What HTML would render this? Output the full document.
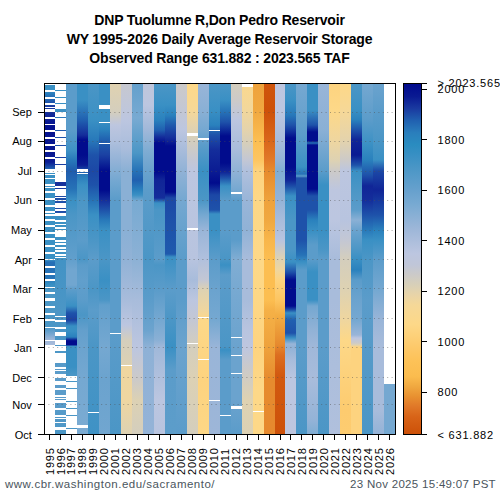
<!DOCTYPE html><html><head><meta charset="utf-8"><style>
html,body{margin:0;padding:0;background:#fff;width:500px;height:500px;overflow:hidden}
body{position:relative;font-family:"Liberation Sans",sans-serif;color:#000}
.title{position:absolute;left:0;width:439px;text-align:center;font-weight:bold;font-size:14px;letter-spacing:-0.17px;white-space:nowrap;line-height:15px}
.ml{position:absolute;right:468.2px;font-size:11px;line-height:12px;white-space:nowrap}
.yl{position:absolute;font-size:11px;line-height:12px;white-space:nowrap;transform-origin:0 0;transform:rotate(-90deg);letter-spacing:0.8px}
.cl{position:absolute;left:437.5px;font-size:11px;line-height:12px;white-space:nowrap;letter-spacing:0.8px}
.foot{position:absolute;top:478px;font-size:11.5px;line-height:12px;color:#4a555d;white-space:nowrap}
</style></head><body>

<div class="title" style="top:13.2px">DNP Tuolumne R,Don Pedro Reservoir</div>
<div class="title" style="top:32.4px">WY 1995-2026 Daily Average Reservoir Storage</div>
<div class="title" style="top:50.8px">Observed Range 631.882 : 2023.565 TAF</div>
<svg style="position:absolute;left:0;top:0" width="500" height="500" shape-rendering="crispEdges"><defs><linearGradient id="g1997" gradientUnits="userSpaceOnUse" x1="0" y1="83" x2="0" y2="434"><stop offset="0.0000" stop-color="#5b9cca"/><stop offset="0.1339" stop-color="#5b9cca"/><stop offset="0.1909" stop-color="#3f92c5"/><stop offset="0.2194" stop-color="#2879ba"/><stop offset="0.2507" stop-color="#1f5cae"/><stop offset="0.3020" stop-color="#2672b7"/><stop offset="0.3333" stop-color="#3a90c4"/><stop offset="0.3761" stop-color="#4b96c6"/><stop offset="0.5014" stop-color="#619fcc"/><stop offset="0.5328" stop-color="#71a6d0"/><stop offset="0.5755" stop-color="#71a6d0"/><stop offset="0.5897" stop-color="#5b9cca"/><stop offset="0.6353" stop-color="#3a90c4"/><stop offset="0.6553" stop-color="#1e52aa"/><stop offset="0.6752" stop-color="#1b41a3"/><stop offset="0.6923" stop-color="#378fc3"/><stop offset="0.7066" stop-color="#3990c4"/><stop offset="0.7236" stop-color="#2a81bd"/><stop offset="0.7322" stop-color="#0b1c93"/><stop offset="0.7350" stop-color="#010c8d"/><stop offset="0.7464" stop-color="#010c8d"/><stop offset="0.7493" stop-color="#3a90c4"/><stop offset="0.8091" stop-color="#3990c4"/><stop offset="0.8319" stop-color="#4a96c6"/><stop offset="1.0000" stop-color="#4a96c6"/></linearGradient><linearGradient id="g1998" gradientUnits="userSpaceOnUse" x1="0" y1="83" x2="0" y2="434"><stop offset="0.0000" stop-color="#3a90c4"/><stop offset="0.0484" stop-color="#3a90c4"/><stop offset="0.1054" stop-color="#2060b0"/><stop offset="0.1481" stop-color="#142d9b"/><stop offset="0.1624" stop-color="#010c8d"/><stop offset="0.2051" stop-color="#010c8d"/><stop offset="0.2336" stop-color="#0b1c93"/><stop offset="0.2621" stop-color="#2879ba"/><stop offset="0.2906" stop-color="#3a90c4"/><stop offset="0.3333" stop-color="#4b96c6"/><stop offset="0.4473" stop-color="#5b9cca"/><stop offset="0.5014" stop-color="#4b96c6"/><stop offset="0.5185" stop-color="#5b9cca"/><stop offset="0.5613" stop-color="#619fcc"/><stop offset="0.6182" stop-color="#5b9cca"/><stop offset="0.6610" stop-color="#4b96c6"/><stop offset="0.7037" stop-color="#639fcc"/><stop offset="0.7521" stop-color="#6ba3ce"/><stop offset="0.8462" stop-color="#75a8d1"/><stop offset="1.0000" stop-color="#7babd2"/></linearGradient><linearGradient id="g1999" gradientUnits="userSpaceOnUse" x1="0" y1="83" x2="0" y2="434"><stop offset="0.0000" stop-color="#4b96c6"/><stop offset="0.1054" stop-color="#3a90c4"/><stop offset="0.1624" stop-color="#2879ba"/><stop offset="0.2051" stop-color="#1e52aa"/><stop offset="0.2507" stop-color="#1c48a6"/><stop offset="0.2906" stop-color="#1e52aa"/><stop offset="0.3333" stop-color="#2672b7"/><stop offset="0.3761" stop-color="#3a90c4"/><stop offset="0.4473" stop-color="#4b96c6"/><stop offset="0.5014" stop-color="#5b9cca"/><stop offset="0.5897" stop-color="#4b96c6"/><stop offset="0.6467" stop-color="#5b9cca"/><stop offset="0.7521" stop-color="#4b96c6"/><stop offset="1.0000" stop-color="#3f92c5"/></linearGradient><linearGradient id="g2000" gradientUnits="userSpaceOnUse" x1="0" y1="83" x2="0" y2="434"><stop offset="0.0000" stop-color="#3a90c4"/><stop offset="0.1083" stop-color="#3a90c4"/><stop offset="0.1339" stop-color="#2a81bd"/><stop offset="0.1624" stop-color="#2060b0"/><stop offset="0.2051" stop-color="#1b41a3"/><stop offset="0.2507" stop-color="#010c8d"/><stop offset="0.3048" stop-color="#010c8d"/><stop offset="0.3333" stop-color="#142d9b"/><stop offset="0.3618" stop-color="#1e52aa"/><stop offset="0.3903" stop-color="#2879ba"/><stop offset="0.4188" stop-color="#3a90c4"/><stop offset="0.5014" stop-color="#4b96c6"/><stop offset="0.5613" stop-color="#3a90c4"/><stop offset="0.6182" stop-color="#4b96c6"/><stop offset="0.6325" stop-color="#619fcc"/><stop offset="0.7521" stop-color="#75a8d1"/><stop offset="0.8462" stop-color="#6ba3ce"/><stop offset="1.0000" stop-color="#71a6d0"/></linearGradient><linearGradient id="g2001" gradientUnits="userSpaceOnUse" x1="0" y1="83" x2="0" y2="434"><stop offset="0.0000" stop-color="#e0d2b0"/><stop offset="0.0826" stop-color="#d4cebd"/><stop offset="0.1197" stop-color="#bdc6df"/><stop offset="0.1624" stop-color="#b0c0dd"/><stop offset="0.2194" stop-color="#94b3d7"/><stop offset="0.2764" stop-color="#75a8d1"/><stop offset="0.3333" stop-color="#5b9cca"/><stop offset="0.5014" stop-color="#5b9cca"/><stop offset="0.7037" stop-color="#5b9cca"/><stop offset="1.0000" stop-color="#4b96c6"/></linearGradient><linearGradient id="g2002" gradientUnits="userSpaceOnUse" x1="0" y1="83" x2="0" y2="434"><stop offset="0.0000" stop-color="#c7c8cf"/><stop offset="0.1054" stop-color="#bcc6e0"/><stop offset="0.1909" stop-color="#a8bcdb"/><stop offset="0.2507" stop-color="#8ab0d5"/><stop offset="0.4188" stop-color="#8ab0d5"/><stop offset="0.5014" stop-color="#91b2d6"/><stop offset="0.6182" stop-color="#a8bcdb"/><stop offset="0.6895" stop-color="#bcc6e0"/><stop offset="0.7322" stop-color="#d4cebd"/><stop offset="0.8006" stop-color="#dcd1b4"/><stop offset="0.8063" stop-color="#efd69f"/><stop offset="0.9031" stop-color="#eed6a1"/><stop offset="1.0000" stop-color="#ded2b2"/></linearGradient><linearGradient id="g2003" gradientUnits="userSpaceOnUse" x1="0" y1="83" x2="0" y2="434"><stop offset="0.0000" stop-color="#64a0cc"/><stop offset="0.0997" stop-color="#78aad2"/><stop offset="0.1994" stop-color="#4b96c6"/><stop offset="0.2507" stop-color="#2672b7"/><stop offset="0.2764" stop-color="#2060b0"/><stop offset="0.3048" stop-color="#2a81bd"/><stop offset="0.3191" stop-color="#3a90c4"/><stop offset="0.3362" stop-color="#78aad2"/><stop offset="0.5014" stop-color="#8cb1d5"/><stop offset="0.6182" stop-color="#a8bcdb"/><stop offset="0.7521" stop-color="#bcc6e0"/><stop offset="0.8462" stop-color="#cccac8"/><stop offset="0.9031" stop-color="#dcd1b4"/><stop offset="1.0000" stop-color="#d4cebd"/></linearGradient><linearGradient id="g2004" gradientUnits="userSpaceOnUse" x1="0" y1="83" x2="0" y2="434"><stop offset="0.0000" stop-color="#bec6db"/><stop offset="0.0627" stop-color="#bcc6e0"/><stop offset="0.1339" stop-color="#a0b8d9"/><stop offset="0.1909" stop-color="#80add3"/><stop offset="0.2479" stop-color="#6ba3ce"/><stop offset="0.3048" stop-color="#5b9cca"/><stop offset="0.5014" stop-color="#4b96c6"/><stop offset="0.6182" stop-color="#5b9cca"/><stop offset="0.7037" stop-color="#6ba3ce"/><stop offset="0.7521" stop-color="#8eb1d6"/><stop offset="1.0000" stop-color="#94b3d7"/></linearGradient><linearGradient id="g2005" gradientUnits="userSpaceOnUse" x1="0" y1="83" x2="0" y2="434"><stop offset="0.0000" stop-color="#4b96c6"/><stop offset="0.0627" stop-color="#3a90c4"/><stop offset="0.1054" stop-color="#2a81bd"/><stop offset="0.1339" stop-color="#2060b0"/><stop offset="0.1538" stop-color="#142d9b"/><stop offset="0.1709" stop-color="#010c8d"/><stop offset="0.2536" stop-color="#010c8d"/><stop offset="0.2764" stop-color="#102597"/><stop offset="0.3276" stop-color="#142d9b"/><stop offset="0.3419" stop-color="#3a90c4"/><stop offset="0.3618" stop-color="#4b96c6"/><stop offset="0.3761" stop-color="#4b96c6"/><stop offset="0.5014" stop-color="#5b9cca"/><stop offset="0.5185" stop-color="#4b96c6"/><stop offset="0.5897" stop-color="#5b9cca"/><stop offset="0.6752" stop-color="#75a8d1"/><stop offset="0.7322" stop-color="#8ab0d5"/><stop offset="0.7521" stop-color="#a0b8d9"/><stop offset="0.9031" stop-color="#bcc6e0"/><stop offset="1.0000" stop-color="#b8c4df"/></linearGradient><linearGradient id="g2006" gradientUnits="userSpaceOnUse" x1="0" y1="83" x2="0" y2="434"><stop offset="0.0000" stop-color="#4b96c6"/><stop offset="0.0627" stop-color="#3a90c4"/><stop offset="0.0912" stop-color="#2a81bd"/><stop offset="0.1197" stop-color="#1f59ad"/><stop offset="0.1567" stop-color="#142d9b"/><stop offset="0.1795" stop-color="#010c8d"/><stop offset="0.2507" stop-color="#010c8d"/><stop offset="0.3105" stop-color="#010c8d"/><stop offset="0.3276" stop-color="#1c48a6"/><stop offset="0.4046" stop-color="#1e52aa"/><stop offset="0.4872" stop-color="#1f59ad"/><stop offset="0.4957" stop-color="#3a90c4"/><stop offset="0.5897" stop-color="#5b9cca"/><stop offset="0.6752" stop-color="#4b96c6"/><stop offset="0.7521" stop-color="#3a90c4"/><stop offset="0.8177" stop-color="#5b9cca"/><stop offset="1.0000" stop-color="#5c9dca"/></linearGradient><linearGradient id="g2007" gradientUnits="userSpaceOnUse" x1="0" y1="83" x2="0" y2="434"><stop offset="0.0000" stop-color="#cccac8"/><stop offset="0.0769" stop-color="#c3c7d4"/><stop offset="0.1339" stop-color="#bcc6e0"/><stop offset="0.1909" stop-color="#a8bcdb"/><stop offset="0.2507" stop-color="#91b2d6"/><stop offset="0.3333" stop-color="#75a8d1"/><stop offset="0.5014" stop-color="#5b9cca"/><stop offset="0.6182" stop-color="#5b9cca"/><stop offset="0.7521" stop-color="#6ba3ce"/><stop offset="1.0000" stop-color="#5b9cca"/></linearGradient><linearGradient id="g2008" gradientUnits="userSpaceOnUse" x1="0" y1="83" x2="0" y2="434"><stop offset="0.0000" stop-color="#fdd888"/><stop offset="0.0769" stop-color="#f6d897"/><stop offset="0.1197" stop-color="#e4d3ac"/><stop offset="0.1624" stop-color="#d4cebd"/><stop offset="0.2194" stop-color="#c3c7d4"/><stop offset="0.2507" stop-color="#bcc6e0"/><stop offset="0.5014" stop-color="#b8c4df"/><stop offset="0.5613" stop-color="#a8bcdb"/><stop offset="0.6182" stop-color="#bcc6e0"/><stop offset="0.6752" stop-color="#c3c7d4"/><stop offset="0.7521" stop-color="#d4cebd"/><stop offset="0.8462" stop-color="#dcd1b4"/><stop offset="1.0000" stop-color="#d4cebd"/></linearGradient><linearGradient id="g2009" gradientUnits="userSpaceOnUse" x1="0" y1="83" x2="0" y2="434"><stop offset="0.0000" stop-color="#99b5d8"/><stop offset="0.0769" stop-color="#8ab0d5"/><stop offset="0.1339" stop-color="#75a8d1"/><stop offset="0.1766" stop-color="#5b9cca"/><stop offset="0.2507" stop-color="#3a90c4"/><stop offset="0.3333" stop-color="#4b96c6"/><stop offset="0.3761" stop-color="#75a8d1"/><stop offset="0.4188" stop-color="#99b5d8"/><stop offset="0.5014" stop-color="#b0c0dd"/><stop offset="0.5613" stop-color="#c3c7d4"/><stop offset="0.5897" stop-color="#ded2b2"/><stop offset="0.6467" stop-color="#efd69f"/><stop offset="0.6752" stop-color="#fdd888"/><stop offset="0.8462" stop-color="#fdd37f"/><stop offset="1.0000" stop-color="#fdd786"/></linearGradient><linearGradient id="g2010" gradientUnits="userSpaceOnUse" x1="0" y1="83" x2="0" y2="434"><stop offset="0.0000" stop-color="#4b96c6"/><stop offset="0.0769" stop-color="#3a90c4"/><stop offset="0.1197" stop-color="#2a81bd"/><stop offset="0.1481" stop-color="#1e52aa"/><stop offset="0.1909" stop-color="#142d9b"/><stop offset="0.2507" stop-color="#0b1c93"/><stop offset="0.2849" stop-color="#010c8d"/><stop offset="0.3191" stop-color="#1c48a6"/><stop offset="0.3618" stop-color="#1e52aa"/><stop offset="0.3732" stop-color="#3a90c4"/><stop offset="0.4188" stop-color="#3a90c4"/><stop offset="0.5014" stop-color="#5b9cca"/><stop offset="0.5897" stop-color="#6ba3ce"/><stop offset="0.6752" stop-color="#75a8d1"/><stop offset="0.7521" stop-color="#99b5d8"/><stop offset="1.0000" stop-color="#9db6d8"/></linearGradient><linearGradient id="g2011" gradientUnits="userSpaceOnUse" x1="0" y1="83" x2="0" y2="434"><stop offset="0.0000" stop-color="#4b96c6"/><stop offset="0.0484" stop-color="#3a90c4"/><stop offset="0.0826" stop-color="#2672b7"/><stop offset="0.1111" stop-color="#1e52aa"/><stop offset="0.1510" stop-color="#010c8d"/><stop offset="0.2279" stop-color="#010c8d"/><stop offset="0.2536" stop-color="#102597"/><stop offset="0.2707" stop-color="#1e52aa"/><stop offset="0.2934" stop-color="#3a90c4"/><stop offset="0.3333" stop-color="#5b9cca"/><stop offset="0.4188" stop-color="#5b9cca"/><stop offset="0.5014" stop-color="#4a96c6"/><stop offset="0.5185" stop-color="#3a90c4"/><stop offset="0.5470" stop-color="#5b9cca"/><stop offset="0.7521" stop-color="#4b96c6"/><stop offset="0.7607" stop-color="#3a90c4"/><stop offset="0.7892" stop-color="#5b9cca"/><stop offset="1.0000" stop-color="#5b9cca"/></linearGradient><linearGradient id="g2012" gradientUnits="userSpaceOnUse" x1="0" y1="83" x2="0" y2="434"><stop offset="0.0000" stop-color="#d4cebd"/><stop offset="0.0484" stop-color="#cccac8"/><stop offset="0.1054" stop-color="#bcc6e0"/><stop offset="0.1909" stop-color="#a8bcdb"/><stop offset="0.2650" stop-color="#8ab0d5"/><stop offset="0.3048" stop-color="#75a8d1"/><stop offset="0.3333" stop-color="#5b9cca"/><stop offset="0.4473" stop-color="#5b9cca"/><stop offset="0.5014" stop-color="#80add3"/><stop offset="0.6182" stop-color="#75a8d1"/><stop offset="0.7521" stop-color="#6ba3ce"/><stop offset="0.9031" stop-color="#6ba3ce"/><stop offset="1.0000" stop-color="#5b9cca"/></linearGradient><linearGradient id="g2013" gradientUnits="userSpaceOnUse" x1="0" y1="83" x2="0" y2="434"><stop offset="0.0000" stop-color="#fad88e"/><stop offset="0.0769" stop-color="#f2d79b"/><stop offset="0.1339" stop-color="#e4d3ac"/><stop offset="0.1766" stop-color="#d4cebd"/><stop offset="0.2194" stop-color="#c3c7d4"/><stop offset="0.2507" stop-color="#b0c0dd"/><stop offset="0.3333" stop-color="#99b5d8"/><stop offset="0.4188" stop-color="#91b2d6"/><stop offset="0.5014" stop-color="#a8bcdb"/><stop offset="0.6182" stop-color="#a8bcdb"/><stop offset="0.7037" stop-color="#b8c4df"/><stop offset="0.7521" stop-color="#bdc6df"/><stop offset="0.8177" stop-color="#cccac8"/><stop offset="0.9031" stop-color="#ded2b2"/><stop offset="1.0000" stop-color="#dcd1b4"/></linearGradient><linearGradient id="g2014" gradientUnits="userSpaceOnUse" x1="0" y1="83" x2="0" y2="434"><stop offset="0.0000" stop-color="#eea23c"/><stop offset="0.0769" stop-color="#f0a840"/><stop offset="0.1339" stop-color="#f8b64a"/><stop offset="0.1624" stop-color="#fcbe51"/><stop offset="0.2194" stop-color="#fdc561"/><stop offset="0.2507" stop-color="#fdd37f"/><stop offset="0.3333" stop-color="#fdd786"/><stop offset="0.5014" stop-color="#fdd888"/><stop offset="0.6182" stop-color="#fdd786"/><stop offset="0.7521" stop-color="#fdd37f"/><stop offset="0.8746" stop-color="#fdd888"/><stop offset="1.0000" stop-color="#fdd888"/></linearGradient><linearGradient id="g2015" gradientUnits="userSpaceOnUse" x1="0" y1="83" x2="0" y2="434"><stop offset="0.0000" stop-color="#cf550c"/><stop offset="0.0769" stop-color="#cd5109"/><stop offset="0.1624" stop-color="#d9661a"/><stop offset="0.2194" stop-color="#e17a29"/><stop offset="0.2507" stop-color="#e68b2e"/><stop offset="0.3333" stop-color="#eea23c"/><stop offset="0.3903" stop-color="#f0a840"/><stop offset="0.4473" stop-color="#f8b64a"/><stop offset="0.5014" stop-color="#fcbe51"/><stop offset="0.6182" stop-color="#fcbe51"/><stop offset="0.6467" stop-color="#f5b147"/><stop offset="0.7521" stop-color="#eea23c"/><stop offset="0.8462" stop-color="#e68b2e"/><stop offset="1.0000" stop-color="#e6892e"/></linearGradient><linearGradient id="g2016" gradientUnits="userSpaceOnUse" x1="0" y1="83" x2="0" y2="434"><stop offset="0.0000" stop-color="#bdc6df"/><stop offset="0.0769" stop-color="#bcc6e0"/><stop offset="0.1624" stop-color="#a8bcdb"/><stop offset="0.2194" stop-color="#94b3d7"/><stop offset="0.2507" stop-color="#80add3"/><stop offset="0.3333" stop-color="#94b3d7"/><stop offset="0.3903" stop-color="#a8bcdb"/><stop offset="0.4473" stop-color="#b8c4df"/><stop offset="0.5014" stop-color="#ded2b2"/><stop offset="0.5328" stop-color="#efd69f"/><stop offset="0.5613" stop-color="#fdd37f"/><stop offset="0.6182" stop-color="#fdc561"/><stop offset="0.6610" stop-color="#f3ae44"/><stop offset="0.6895" stop-color="#eea23c"/><stop offset="0.7464" stop-color="#e6892e"/><stop offset="0.7749" stop-color="#dc6e20"/><stop offset="0.8319" stop-color="#d25910"/><stop offset="1.0000" stop-color="#cd5109"/></linearGradient><linearGradient id="g2017" gradientUnits="userSpaceOnUse" x1="0" y1="83" x2="0" y2="434"><stop offset="0.0000" stop-color="#4b96c6"/><stop offset="0.0484" stop-color="#3a90c4"/><stop offset="0.0912" stop-color="#2879ba"/><stop offset="0.1197" stop-color="#1e52aa"/><stop offset="0.1567" stop-color="#010c8d"/><stop offset="0.2393" stop-color="#010c8d"/><stop offset="0.2764" stop-color="#102597"/><stop offset="0.2963" stop-color="#1e52aa"/><stop offset="0.3219" stop-color="#3a90c4"/><stop offset="0.3903" stop-color="#4b96c6"/><stop offset="0.4758" stop-color="#4b96c6"/><stop offset="0.5100" stop-color="#3a90c4"/><stop offset="0.5385" stop-color="#1e52aa"/><stop offset="0.5613" stop-color="#010c8d"/><stop offset="0.6353" stop-color="#010c8d"/><stop offset="0.6467" stop-color="#1e52aa"/><stop offset="0.6553" stop-color="#3a90c4"/><stop offset="0.6752" stop-color="#2060b0"/><stop offset="0.7123" stop-color="#1e52aa"/><stop offset="0.7265" stop-color="#3a90c4"/><stop offset="0.7436" stop-color="#99b5d8"/><stop offset="0.7521" stop-color="#91b2d6"/><stop offset="0.7892" stop-color="#a8bcdb"/><stop offset="0.8462" stop-color="#bcc6e0"/><stop offset="1.0000" stop-color="#bdc6df"/></linearGradient><linearGradient id="g2018" gradientUnits="userSpaceOnUse" x1="0" y1="83" x2="0" y2="434"><stop offset="0.0000" stop-color="#75a8d1"/><stop offset="0.0769" stop-color="#6ba3ce"/><stop offset="0.1481" stop-color="#5b9cca"/><stop offset="0.2393" stop-color="#3a90c4"/><stop offset="0.2593" stop-color="#2672b7"/><stop offset="0.2650" stop-color="#5b9cca"/><stop offset="0.2707" stop-color="#1e52aa"/><stop offset="0.4473" stop-color="#1e52aa"/><stop offset="0.4900" stop-color="#2672b7"/><stop offset="0.5100" stop-color="#3a90c4"/><stop offset="0.5328" stop-color="#5b9cca"/><stop offset="0.7521" stop-color="#5b9cca"/><stop offset="1.0000" stop-color="#4b96c6"/></linearGradient><linearGradient id="g2019" gradientUnits="userSpaceOnUse" x1="0" y1="83" x2="0" y2="434"><stop offset="0.0000" stop-color="#3a90c4"/><stop offset="0.0769" stop-color="#3a90c4"/><stop offset="0.1197" stop-color="#1e52aa"/><stop offset="0.1396" stop-color="#010c8d"/><stop offset="0.1652" stop-color="#010c8d"/><stop offset="0.1709" stop-color="#2672b7"/><stop offset="0.1766" stop-color="#010c8d"/><stop offset="0.3020" stop-color="#010c8d"/><stop offset="0.3219" stop-color="#1e52aa"/><stop offset="0.3618" stop-color="#1e52aa"/><stop offset="0.3903" stop-color="#2a81bd"/><stop offset="0.4217" stop-color="#3a90c4"/><stop offset="0.4615" stop-color="#5b9cca"/><stop offset="0.5014" stop-color="#5b9cca"/><stop offset="0.5385" stop-color="#3a90c4"/><stop offset="0.6182" stop-color="#3a90c4"/><stop offset="0.6353" stop-color="#75a8d1"/><stop offset="0.7037" stop-color="#91b2d6"/><stop offset="0.7521" stop-color="#a0b8d9"/><stop offset="0.8462" stop-color="#a8bcdb"/><stop offset="0.9601" stop-color="#94b3d7"/><stop offset="1.0000" stop-color="#80add3"/></linearGradient><linearGradient id="g2020" gradientUnits="userSpaceOnUse" x1="0" y1="83" x2="0" y2="434"><stop offset="0.0000" stop-color="#99b5d8"/><stop offset="0.1339" stop-color="#8ab0d5"/><stop offset="0.2507" stop-color="#5b9cca"/><stop offset="0.2906" stop-color="#3a90c4"/><stop offset="0.4188" stop-color="#3a90c4"/><stop offset="0.4758" stop-color="#4b96c6"/><stop offset="0.5014" stop-color="#5b9cca"/><stop offset="0.7521" stop-color="#5b9cca"/><stop offset="1.0000" stop-color="#4b96c6"/></linearGradient><linearGradient id="g2021" gradientUnits="userSpaceOnUse" x1="0" y1="83" x2="0" y2="434"><stop offset="0.0000" stop-color="#fdd37f"/><stop offset="0.0769" stop-color="#fdd888"/><stop offset="0.1624" stop-color="#efd69f"/><stop offset="0.2194" stop-color="#ded2b2"/><stop offset="0.2507" stop-color="#cccac8"/><stop offset="0.3048" stop-color="#bdc6df"/><stop offset="0.3903" stop-color="#bcc6e0"/><stop offset="0.5014" stop-color="#a8bcdb"/><stop offset="0.6182" stop-color="#a8bcdb"/><stop offset="1.0000" stop-color="#b0c0dd"/></linearGradient><linearGradient id="g2022" gradientUnits="userSpaceOnUse" x1="0" y1="83" x2="0" y2="434"><stop offset="0.0000" stop-color="#fdd888"/><stop offset="0.0769" stop-color="#f6d897"/><stop offset="0.1624" stop-color="#e4d3ac"/><stop offset="0.2194" stop-color="#cccac8"/><stop offset="0.2507" stop-color="#bcc6e0"/><stop offset="0.3903" stop-color="#b8c4df"/><stop offset="0.4473" stop-color="#c3c7d4"/><stop offset="0.5014" stop-color="#d4cebd"/><stop offset="0.5897" stop-color="#ded2b2"/><stop offset="0.6752" stop-color="#efd69f"/><stop offset="0.7322" stop-color="#fdd888"/><stop offset="0.9316" stop-color="#fdcb6f"/><stop offset="1.0000" stop-color="#fdcc70"/></linearGradient><linearGradient id="g2023" gradientUnits="userSpaceOnUse" x1="0" y1="83" x2="0" y2="434"><stop offset="0.0000" stop-color="#4b96c6"/><stop offset="0.0769" stop-color="#3a90c4"/><stop offset="0.1054" stop-color="#2a81bd"/><stop offset="0.1339" stop-color="#1e52aa"/><stop offset="0.1624" stop-color="#102597"/><stop offset="0.2051" stop-color="#0a1a92"/><stop offset="0.2336" stop-color="#1e52aa"/><stop offset="0.2507" stop-color="#3a90c4"/><stop offset="0.3048" stop-color="#4b96c6"/><stop offset="0.3618" stop-color="#5b9cca"/><stop offset="0.3903" stop-color="#8ab0d5"/><stop offset="0.4188" stop-color="#6ba3ce"/><stop offset="0.4758" stop-color="#4b96c6"/><stop offset="0.5014" stop-color="#3a90c4"/><stop offset="0.5328" stop-color="#2a81bd"/><stop offset="0.5613" stop-color="#5b9cca"/><stop offset="0.6182" stop-color="#6ba3ce"/><stop offset="0.6752" stop-color="#75a8d1"/><stop offset="0.7179" stop-color="#99b5d8"/><stop offset="0.7265" stop-color="#bcc6e0"/><stop offset="0.7407" stop-color="#cccac8"/><stop offset="0.7464" stop-color="#ded2b2"/><stop offset="0.7521" stop-color="#fdd37f"/><stop offset="1.0000" stop-color="#fdd37f"/></linearGradient><linearGradient id="g2024" gradientUnits="userSpaceOnUse" x1="0" y1="83" x2="0" y2="434"><stop offset="0.0000" stop-color="#75a8d1"/><stop offset="0.1054" stop-color="#5b9cca"/><stop offset="0.1766" stop-color="#3a90c4"/><stop offset="0.2194" stop-color="#2a81bd"/><stop offset="0.2621" stop-color="#1e52aa"/><stop offset="0.2934" stop-color="#102597"/><stop offset="0.3333" stop-color="#142d9b"/><stop offset="0.3761" stop-color="#1e52aa"/><stop offset="0.4188" stop-color="#2879ba"/><stop offset="0.4473" stop-color="#3a90c4"/><stop offset="0.5014" stop-color="#4b96c6"/><stop offset="0.6182" stop-color="#5b9cca"/><stop offset="1.0000" stop-color="#4b96c6"/></linearGradient><linearGradient id="g2025" gradientUnits="userSpaceOnUse" x1="0" y1="83" x2="0" y2="434"><stop offset="0.0000" stop-color="#6ba3ce"/><stop offset="0.0769" stop-color="#5b9cca"/><stop offset="0.1624" stop-color="#4b96c6"/><stop offset="0.2194" stop-color="#3a90c4"/><stop offset="0.2507" stop-color="#1c48a6"/><stop offset="0.3048" stop-color="#102597"/><stop offset="0.3761" stop-color="#1e52aa"/><stop offset="0.4188" stop-color="#2a81bd"/><stop offset="0.4473" stop-color="#3a90c4"/><stop offset="0.5014" stop-color="#5b9cca"/><stop offset="0.5897" stop-color="#75a8d1"/><stop offset="0.6752" stop-color="#99b5d8"/><stop offset="0.7521" stop-color="#a8bcdb"/><stop offset="0.9316" stop-color="#a8bcdb"/><stop offset="1.0000" stop-color="#94b3d7"/></linearGradient><linearGradient id="g2026" gradientUnits="userSpaceOnUse" x1="0" y1="83" x2="0" y2="434"><stop offset="0.0000" stop-color="#ffffff"/><stop offset="0.8575" stop-color="#ffffff"/><stop offset="0.8576" stop-color="#75a8d1"/><stop offset="1.0000" stop-color="#75a8d1"/></linearGradient><linearGradient id="g1995" gradientUnits="userSpaceOnUse" x1="0" y1="83" x2="0" y2="434"><stop offset="0.0000" stop-color="#3990c4"/><stop offset="0.0199" stop-color="#3990c4"/><stop offset="0.0313" stop-color="#297bbb"/><stop offset="0.0513" stop-color="#1f5bae"/><stop offset="0.0684" stop-color="#19389f"/><stop offset="0.0883" stop-color="#122a99"/><stop offset="0.1083" stop-color="#0a1a92"/><stop offset="0.1254" stop-color="#04118f"/><stop offset="0.2251" stop-color="#0b1c93"/><stop offset="0.2450" stop-color="#2162b1"/><stop offset="0.2564" stop-color="#3a90c4"/><stop offset="0.5043" stop-color="#3990c4"/><stop offset="0.5100" stop-color="#256fb6"/><stop offset="0.5584" stop-color="#2775b8"/><stop offset="0.5726" stop-color="#378fc3"/><stop offset="0.5897" stop-color="#4b97c6"/><stop offset="0.6923" stop-color="#4a96c6"/><stop offset="0.7037" stop-color="#5b9cca"/><stop offset="0.7293" stop-color="#9ab5d8"/><stop offset="0.7464" stop-color="#a8bcdb"/><stop offset="1.0000" stop-color="#a8bcdb"/></linearGradient><linearGradient id="g1996" gradientUnits="userSpaceOnUse" x1="0" y1="83" x2="0" y2="434"><stop offset="0.0000" stop-color="#3a90c4"/><stop offset="0.0627" stop-color="#3a90c4"/><stop offset="0.0798" stop-color="#3d91c4"/><stop offset="0.1197" stop-color="#2060b0"/><stop offset="0.2194" stop-color="#1b41a3"/><stop offset="0.2877" stop-color="#152f9b"/><stop offset="0.3333" stop-color="#1e52aa"/><stop offset="0.3675" stop-color="#1d4ba7"/><stop offset="0.3789" stop-color="#3a90c4"/><stop offset="0.6467" stop-color="#4b96c6"/><stop offset="0.7607" stop-color="#4b96c6"/><stop offset="0.8177" stop-color="#5b9cca"/><stop offset="0.9031" stop-color="#5b9cca"/><stop offset="1.0000" stop-color="#4a96c6"/></linearGradient><linearGradient id="cb" x1="0" y1="1" x2="0" y2="0"><stop offset="0.0000" stop-color="#cc5008"/><stop offset="0.0511" stop-color="#d86418"/><stop offset="0.0798" stop-color="#e07828"/><stop offset="0.1079" stop-color="#e89030"/><stop offset="0.1366" stop-color="#f0a840"/><stop offset="0.1654" stop-color="#fbbc4e"/><stop offset="0.2106" stop-color="#fdc258"/><stop offset="0.2451" stop-color="#fdc868"/><stop offset="0.2789" stop-color="#fdd078"/><stop offset="0.3134" stop-color="#fdd888"/><stop offset="0.3694" stop-color="#f5d898"/><stop offset="0.3982" stop-color="#e8d4a8"/><stop offset="0.4262" stop-color="#d8d0b8"/><stop offset="0.4549" stop-color="#cccac8"/><stop offset="0.4837" stop-color="#c0c6d8"/><stop offset="0.5160" stop-color="#bcc6e0"/><stop offset="0.5879" stop-color="#9cb6d8"/><stop offset="0.6554" stop-color="#78aad2"/><stop offset="0.6885" stop-color="#6aa2ce"/><stop offset="0.7244" stop-color="#5a9cca"/><stop offset="0.7603" stop-color="#4a96c6"/><stop offset="0.7927" stop-color="#3a90c4"/><stop offset="0.8264" stop-color="#2a8cc0"/><stop offset="0.8602" stop-color="#2a7ebc"/><stop offset="0.8947" stop-color="#2060b0"/><stop offset="0.9285" stop-color="#1a3aa0"/><stop offset="0.9629" stop-color="#0a1a92"/><stop offset="1.0000" stop-color="#000a8c"/></linearGradient></defs><rect x="66" y="83" width="11" height="351" fill="url(#g1997)"/><rect x="77" y="83" width="11" height="351" fill="url(#g1998)"/><rect x="77" y="169" width="11" height="3" fill="#fff"/><rect x="77" y="173" width="11" height="1" fill="#fff"/><rect x="77" y="425" width="11" height="3" fill="#fff"/><rect x="88" y="83" width="11" height="351" fill="url(#g1999)"/><rect x="88" y="412" width="11" height="1" fill="#fff"/><rect x="99" y="83" width="11" height="351" fill="url(#g2000)"/><rect x="99" y="105" width="11" height="4" fill="#fff"/><rect x="99" y="122" width="11" height="1" fill="#fff"/><rect x="99" y="143" width="11" height="1" fill="#fff"/><rect x="110" y="83" width="11" height="351" fill="url(#g2001)"/><rect x="110" y="333" width="11" height="1" fill="#fff"/><rect x="121" y="83" width="11" height="351" fill="url(#g2002)"/><rect x="121" y="365" width="11" height="1" fill="#fff"/><rect x="132" y="83" width="11" height="351" fill="url(#g2003)"/><rect x="143" y="83" width="11" height="351" fill="url(#g2004)"/><rect x="154" y="83" width="11" height="351" fill="url(#g2005)"/><rect x="165" y="83" width="11" height="351" fill="url(#g2006)"/><rect x="176" y="83" width="11" height="351" fill="url(#g2007)"/><rect x="187" y="83" width="11" height="351" fill="url(#g2008)"/><rect x="187" y="133" width="11" height="3" fill="#fff"/><rect x="187" y="228" width="11" height="2" fill="#fff"/><rect x="187" y="343" width="11" height="1" fill="#fff"/><rect x="198" y="83" width="11" height="351" fill="url(#g2009)"/><rect x="198" y="138" width="11" height="2" fill="#fff"/><rect x="198" y="317" width="11" height="1" fill="#fff"/><rect x="198" y="359" width="11" height="1" fill="#fff"/><rect x="209" y="83" width="11" height="351" fill="url(#g2010)"/><rect x="209" y="130" width="11" height="1" fill="#fff"/><rect x="209" y="400" width="11" height="1" fill="#fff"/><rect x="220" y="83" width="11" height="351" fill="url(#g2011)"/><rect x="220" y="415" width="11" height="1" fill="#fff"/><rect x="231" y="83" width="11" height="351" fill="url(#g2012)"/><rect x="231" y="192" width="11" height="2" fill="#fff"/><rect x="231" y="337" width="11" height="1" fill="#fff"/><rect x="231" y="355" width="11" height="1" fill="#fff"/><rect x="231" y="373" width="11" height="1" fill="#fff"/><rect x="231" y="406" width="11" height="3" fill="#fff"/><rect x="242" y="83" width="11" height="351" fill="url(#g2013)"/><rect x="242" y="83" width="11" height="4" fill="#fff"/><rect x="253" y="83" width="11" height="351" fill="url(#g2014)"/><rect x="253" y="411" width="11" height="1" fill="#fff"/><rect x="264" y="83" width="11" height="351" fill="url(#g2015)"/><rect x="275" y="83" width="10" height="351" fill="url(#g2016)"/><rect x="285" y="83" width="11" height="351" fill="url(#g2017)"/><rect x="296" y="83" width="11" height="351" fill="url(#g2018)"/><rect x="307" y="83" width="11" height="351" fill="url(#g2019)"/><rect x="318" y="83" width="11" height="351" fill="url(#g2020)"/><rect x="329" y="83" width="11" height="351" fill="url(#g2021)"/><rect x="340" y="83" width="11" height="351" fill="url(#g2022)"/><rect x="351" y="83" width="11" height="351" fill="url(#g2023)"/><rect x="362" y="83" width="11" height="351" fill="url(#g2024)"/><rect x="373" y="83" width="11" height="351" fill="url(#g2025)"/><rect x="384" y="83" width="11" height="351" fill="url(#g2026)"/><rect x="66" y="376" width="11" height="5" fill="#fff"/><rect x="66" y="382" width="11" height="6" fill="#fff"/><rect x="66" y="389" width="11" height="12" fill="#fff"/><rect x="66" y="402" width="11" height="6" fill="#fff"/><rect x="66" y="409" width="11" height="6" fill="#fff"/><rect x="66" y="416" width="11" height="12" fill="#fff"/><rect x="66" y="429" width="11" height="5" fill="#fff"/><rect x="44" y="83" width="11" height="351" fill="url(#g1995)"/><rect x="44" y="83" width="11" height="2" fill="#fff"/><rect x="44" y="90" width="11" height="2" fill="#fff"/><rect x="44" y="97" width="11" height="2" fill="#fff"/><rect x="44" y="103" width="11" height="2" fill="#fff"/><rect x="44" y="107" width="11" height="1" fill="#fff"/><rect x="44" y="109" width="11" height="3" fill="#fff"/><rect x="44" y="117" width="11" height="2" fill="#fff"/><rect x="44" y="124" width="11" height="1" fill="#fff"/><rect x="44" y="130" width="11" height="2" fill="#fff"/><rect x="44" y="137" width="11" height="2" fill="#fff"/><rect x="44" y="144" width="11" height="2" fill="#fff"/><rect x="44" y="150" width="11" height="2" fill="#fff"/><rect x="44" y="157" width="11" height="2" fill="#fff"/><rect x="44" y="169" width="11" height="4" fill="#fff"/><rect x="44" y="174" width="11" height="1" fill="#fff"/><rect x="44" y="178" width="11" height="1" fill="#fff"/><rect x="44" y="184" width="11" height="2" fill="#fff"/><rect x="44" y="187" width="11" height="1" fill="#fff"/><rect x="44" y="191" width="11" height="2" fill="#fff"/><rect x="44" y="198" width="11" height="2" fill="#fff"/><rect x="44" y="205" width="11" height="2" fill="#fff"/><rect x="44" y="211" width="11" height="2" fill="#fff"/><rect x="44" y="214" width="11" height="2" fill="#fff"/><rect x="44" y="219" width="11" height="2" fill="#fff"/><rect x="44" y="225" width="11" height="2" fill="#fff"/><rect x="44" y="232" width="11" height="2" fill="#fff"/><rect x="44" y="238" width="11" height="2" fill="#fff"/><rect x="44" y="245" width="11" height="2" fill="#fff"/><rect x="44" y="252" width="11" height="2" fill="#fff"/><rect x="44" y="259" width="11" height="1" fill="#fff"/><rect x="44" y="266" width="11" height="2" fill="#fff"/><rect x="44" y="273" width="11" height="2" fill="#fff"/><rect x="44" y="279" width="11" height="2" fill="#fff"/><rect x="44" y="287" width="11" height="1" fill="#fff"/><rect x="44" y="292" width="11" height="2" fill="#fff"/><rect x="44" y="298" width="11" height="3" fill="#fff"/><rect x="44" y="306" width="11" height="2" fill="#fff"/><rect x="44" y="313" width="11" height="2" fill="#fff"/><rect x="44" y="319" width="11" height="2" fill="#fff"/><rect x="44" y="327" width="11" height="1" fill="#fff"/><rect x="44" y="340" width="11" height="1" fill="#fff"/><rect x="44" y="345" width="11" height="89" fill="#fff"/><rect x="55" y="90" width="11" height="1" fill="url(#g1996)"/><rect x="55" y="97" width="11" height="1" fill="url(#g1996)"/><rect x="55" y="103" width="11" height="1" fill="url(#g1996)"/><rect x="55" y="109" width="11" height="3" fill="url(#g1996)"/><rect x="55" y="117" width="11" height="1" fill="url(#g1996)"/><rect x="55" y="130" width="11" height="1" fill="url(#g1996)"/><rect x="55" y="137" width="11" height="1" fill="url(#g1996)"/><rect x="55" y="145" width="11" height="1" fill="url(#g1996)"/><rect x="55" y="157" width="11" height="1" fill="url(#g1996)"/><rect x="55" y="164" width="11" height="1" fill="url(#g1996)"/><rect x="55" y="182" width="11" height="4" fill="url(#g1996)"/><rect x="55" y="188" width="11" height="1" fill="url(#g1996)"/><rect x="55" y="196" width="11" height="1" fill="url(#g1996)"/><rect x="55" y="198" width="11" height="2" fill="url(#g1996)"/><rect x="55" y="201" width="11" height="2" fill="url(#g1996)"/><rect x="55" y="208" width="11" height="1" fill="url(#g1996)"/><rect x="55" y="211" width="11" height="2" fill="url(#g1996)"/><rect x="55" y="216" width="11" height="4" fill="url(#g1996)"/><rect x="55" y="222" width="11" height="2" fill="url(#g1996)"/><rect x="55" y="225" width="11" height="2" fill="url(#g1996)"/><rect x="55" y="229" width="11" height="1" fill="url(#g1996)"/><rect x="55" y="237" width="11" height="3" fill="url(#g1996)"/><rect x="55" y="242" width="11" height="1" fill="url(#g1996)"/><rect x="55" y="245" width="11" height="2" fill="url(#g1996)"/><rect x="55" y="249" width="11" height="1" fill="url(#g1996)"/><rect x="55" y="252" width="11" height="2" fill="url(#g1996)"/><rect x="55" y="256" width="11" height="1" fill="url(#g1996)"/><rect x="55" y="258" width="11" height="58" fill="url(#g1996)"/><rect x="55" y="317" width="11" height="3" fill="url(#g1996)"/><rect x="55" y="322" width="11" height="5" fill="url(#g1996)"/><rect x="55" y="329" width="11" height="3" fill="url(#g1996)"/><rect x="55" y="336" width="11" height="4" fill="url(#g1996)"/><rect x="55" y="345" width="11" height="1" fill="url(#g1996)"/><rect x="55" y="351" width="11" height="2" fill="url(#g1996)"/><rect x="55" y="363" width="11" height="4" fill="url(#g1996)"/><rect x="55" y="369" width="11" height="1" fill="url(#g1996)"/><rect x="55" y="371" width="11" height="3" fill="url(#g1996)"/><rect x="55" y="378" width="11" height="3" fill="url(#g1996)"/><rect x="55" y="385" width="11" height="3" fill="url(#g1996)"/><rect x="55" y="390" width="11" height="5" fill="url(#g1996)"/><rect x="55" y="397" width="11" height="1" fill="url(#g1996)"/><rect x="55" y="399" width="11" height="1" fill="url(#g1996)"/><rect x="55" y="403" width="11" height="5" fill="url(#g1996)"/><rect x="55" y="410" width="11" height="5" fill="url(#g1996)"/><rect x="55" y="417" width="11" height="1" fill="url(#g1996)"/><rect x="55" y="419" width="11" height="3" fill="url(#g1996)"/><rect x="55" y="423" width="11" height="4" fill="url(#g1996)"/><rect x="55" y="430" width="11" height="4" fill="url(#g1996)"/><line x1="44" y1="404.5" x2="395" y2="404.5" stroke="#505050" stroke-opacity="0.5" stroke-width="1" stroke-dasharray="1 3.4" shape-rendering="auto"/><line x1="44" y1="377.5" x2="395" y2="377.5" stroke="#505050" stroke-opacity="0.5" stroke-width="1" stroke-dasharray="1 3.4" shape-rendering="auto"/><line x1="44" y1="347.5" x2="395" y2="347.5" stroke="#505050" stroke-opacity="0.5" stroke-width="1" stroke-dasharray="1 3.4" shape-rendering="auto"/><line x1="44" y1="318.5" x2="395" y2="318.5" stroke="#505050" stroke-opacity="0.5" stroke-width="1" stroke-dasharray="1 3.4" shape-rendering="auto"/><line x1="44" y1="288.5" x2="395" y2="288.5" stroke="#505050" stroke-opacity="0.5" stroke-width="1" stroke-dasharray="1 3.4" shape-rendering="auto"/><line x1="44" y1="259.5" x2="395" y2="259.5" stroke="#505050" stroke-opacity="0.5" stroke-width="1" stroke-dasharray="1 3.4" shape-rendering="auto"/><line x1="44" y1="230.5" x2="395" y2="230.5" stroke="#505050" stroke-opacity="0.5" stroke-width="1" stroke-dasharray="1 3.4" shape-rendering="auto"/><line x1="44" y1="200.5" x2="395" y2="200.5" stroke="#505050" stroke-opacity="0.5" stroke-width="1" stroke-dasharray="1 3.4" shape-rendering="auto"/><line x1="44" y1="171.5" x2="395" y2="171.5" stroke="#505050" stroke-opacity="0.5" stroke-width="1" stroke-dasharray="1 3.4" shape-rendering="auto"/><line x1="44" y1="141.5" x2="395" y2="141.5" stroke="#505050" stroke-opacity="0.5" stroke-width="1" stroke-dasharray="1 3.4" shape-rendering="auto"/><line x1="44" y1="112.5" x2="395" y2="112.5" stroke="#505050" stroke-opacity="0.5" stroke-width="1" stroke-dasharray="1 3.4" shape-rendering="auto"/><rect x="44.5" y="83.5" width="351" height="351" fill="none" stroke="#000" stroke-width="1"/><line x1="38" y1="434.5" x2="44" y2="434.5" stroke="#000" stroke-width="1"/><line x1="38" y1="404.5" x2="44" y2="404.5" stroke="#000" stroke-width="1"/><line x1="38" y1="377.5" x2="44" y2="377.5" stroke="#000" stroke-width="1"/><line x1="38" y1="347.5" x2="44" y2="347.5" stroke="#000" stroke-width="1"/><line x1="38" y1="318.5" x2="44" y2="318.5" stroke="#000" stroke-width="1"/><line x1="38" y1="288.5" x2="44" y2="288.5" stroke="#000" stroke-width="1"/><line x1="38" y1="259.5" x2="44" y2="259.5" stroke="#000" stroke-width="1"/><line x1="38" y1="230.5" x2="44" y2="230.5" stroke="#000" stroke-width="1"/><line x1="38" y1="200.5" x2="44" y2="200.5" stroke="#000" stroke-width="1"/><line x1="38" y1="171.5" x2="44" y2="171.5" stroke="#000" stroke-width="1"/><line x1="38" y1="141.5" x2="44" y2="141.5" stroke="#000" stroke-width="1"/><line x1="38" y1="112.5" x2="44" y2="112.5" stroke="#000" stroke-width="1"/><line x1="49.5" y1="434" x2="49.5" y2="439.5" stroke="#000" stroke-width="1"/><line x1="60.5" y1="434" x2="60.5" y2="439.5" stroke="#000" stroke-width="1"/><line x1="71.5" y1="434" x2="71.5" y2="439.5" stroke="#000" stroke-width="1"/><line x1="82.5" y1="434" x2="82.5" y2="439.5" stroke="#000" stroke-width="1"/><line x1="93.5" y1="434" x2="93.5" y2="439.5" stroke="#000" stroke-width="1"/><line x1="104.5" y1="434" x2="104.5" y2="439.5" stroke="#000" stroke-width="1"/><line x1="115.5" y1="434" x2="115.5" y2="439.5" stroke="#000" stroke-width="1"/><line x1="126.5" y1="434" x2="126.5" y2="439.5" stroke="#000" stroke-width="1"/><line x1="137.5" y1="434" x2="137.5" y2="439.5" stroke="#000" stroke-width="1"/><line x1="148.5" y1="434" x2="148.5" y2="439.5" stroke="#000" stroke-width="1"/><line x1="159.5" y1="434" x2="159.5" y2="439.5" stroke="#000" stroke-width="1"/><line x1="170.5" y1="434" x2="170.5" y2="439.5" stroke="#000" stroke-width="1"/><line x1="181.5" y1="434" x2="181.5" y2="439.5" stroke="#000" stroke-width="1"/><line x1="192.5" y1="434" x2="192.5" y2="439.5" stroke="#000" stroke-width="1"/><line x1="203.5" y1="434" x2="203.5" y2="439.5" stroke="#000" stroke-width="1"/><line x1="214.5" y1="434" x2="214.5" y2="439.5" stroke="#000" stroke-width="1"/><line x1="225.5" y1="434" x2="225.5" y2="439.5" stroke="#000" stroke-width="1"/><line x1="236.5" y1="434" x2="236.5" y2="439.5" stroke="#000" stroke-width="1"/><line x1="247.5" y1="434" x2="247.5" y2="439.5" stroke="#000" stroke-width="1"/><line x1="258.5" y1="434" x2="258.5" y2="439.5" stroke="#000" stroke-width="1"/><line x1="269.5" y1="434" x2="269.5" y2="439.5" stroke="#000" stroke-width="1"/><line x1="280.5" y1="434" x2="280.5" y2="439.5" stroke="#000" stroke-width="1"/><line x1="290.5" y1="434" x2="290.5" y2="439.5" stroke="#000" stroke-width="1"/><line x1="301.5" y1="434" x2="301.5" y2="439.5" stroke="#000" stroke-width="1"/><line x1="312.5" y1="434" x2="312.5" y2="439.5" stroke="#000" stroke-width="1"/><line x1="323.5" y1="434" x2="323.5" y2="439.5" stroke="#000" stroke-width="1"/><line x1="334.5" y1="434" x2="334.5" y2="439.5" stroke="#000" stroke-width="1"/><line x1="345.5" y1="434" x2="345.5" y2="439.5" stroke="#000" stroke-width="1"/><line x1="356.5" y1="434" x2="356.5" y2="439.5" stroke="#000" stroke-width="1"/><line x1="367.5" y1="434" x2="367.5" y2="439.5" stroke="#000" stroke-width="1"/><line x1="378.5" y1="434" x2="378.5" y2="439.5" stroke="#000" stroke-width="1"/><line x1="389.5" y1="434" x2="389.5" y2="439.5" stroke="#000" stroke-width="1"/><rect x="403.5" y="83.5" width="18" height="351" fill="url(#cb)" stroke="#000" stroke-width="1"/><line x1="421" y1="392.5" x2="427" y2="392.5" stroke="#000" stroke-width="1"/><line x1="421" y1="341.5" x2="427" y2="341.5" stroke="#000" stroke-width="1"/><line x1="421" y1="291.5" x2="427" y2="291.5" stroke="#000" stroke-width="1"/><line x1="421" y1="240.5" x2="427" y2="240.5" stroke="#000" stroke-width="1"/><line x1="421" y1="190.5" x2="427" y2="190.5" stroke="#000" stroke-width="1"/><line x1="421" y1="139.5" x2="427" y2="139.5" stroke="#000" stroke-width="1"/><line x1="421" y1="89.5" x2="427" y2="89.5" stroke="#000" stroke-width="1"/><line x1="421" y1="83.5" x2="427" y2="83.5" stroke="#000" stroke-width="1"/><line x1="421" y1="434.5" x2="427" y2="434.5" stroke="#000" stroke-width="1"/></svg>
<div class="ml" style="top:399.0px">Nov</div>
<div class="ml" style="top:372.0px">Dec</div>
<div class="ml" style="top:342.0px">Jan</div>
<div class="ml" style="top:313.0px">Feb</div>
<div class="ml" style="top:283.0px">Mar</div>
<div class="ml" style="top:254.0px">Apr</div>
<div class="ml" style="top:224.0px">May</div>
<div class="ml" style="top:194.0px">Jun</div>
<div class="ml" style="top:165.0px">Jul</div>
<div class="ml" style="top:135.0px">Aug</div>
<div class="ml" style="top:106.0px">Sep</div>
<div class="ml" style="top:429.0px">Oct</div>
<div class="yl" style="left:43.5px;top:474.5px">1995</div>
<div class="yl" style="left:54.5px;top:474.5px">1996</div>
<div class="yl" style="left:65.4px;top:474.5px">1997</div>
<div class="yl" style="left:76.4px;top:474.5px">1998</div>
<div class="yl" style="left:87.4px;top:474.5px">1999</div>
<div class="yl" style="left:98.3px;top:474.5px">2000</div>
<div class="yl" style="left:109.3px;top:474.5px">2001</div>
<div class="yl" style="left:120.3px;top:474.5px">2002</div>
<div class="yl" style="left:131.2px;top:474.5px">2003</div>
<div class="yl" style="left:142.2px;top:474.5px">2004</div>
<div class="yl" style="left:153.2px;top:474.5px">2005</div>
<div class="yl" style="left:164.1px;top:474.5px">2006</div>
<div class="yl" style="left:175.1px;top:474.5px">2007</div>
<div class="yl" style="left:186.1px;top:474.5px">2008</div>
<div class="yl" style="left:197.0px;top:474.5px">2009</div>
<div class="yl" style="left:208.0px;top:474.5px">2010</div>
<div class="yl" style="left:219.0px;top:474.5px">2011</div>
<div class="yl" style="left:230.0px;top:474.5px">2012</div>
<div class="yl" style="left:240.9px;top:474.5px">2013</div>
<div class="yl" style="left:251.9px;top:474.5px">2014</div>
<div class="yl" style="left:262.9px;top:474.5px">2015</div>
<div class="yl" style="left:273.8px;top:474.5px">2016</div>
<div class="yl" style="left:284.8px;top:474.5px">2017</div>
<div class="yl" style="left:295.8px;top:474.5px">2018</div>
<div class="yl" style="left:306.7px;top:474.5px">2019</div>
<div class="yl" style="left:317.7px;top:474.5px">2020</div>
<div class="yl" style="left:328.7px;top:474.5px">2021</div>
<div class="yl" style="left:339.6px;top:474.5px">2022</div>
<div class="yl" style="left:350.6px;top:474.5px">2023</div>
<div class="yl" style="left:361.6px;top:474.5px">2024</div>
<div class="yl" style="left:372.5px;top:474.5px">2025</div>
<div class="yl" style="left:383.5px;top:474.5px">2026</div>
<div class="cl" style="top:386.0px">800</div>
<div class="cl" style="top:335.6px">1000</div>
<div class="cl" style="top:285.1px">1200</div>
<div class="cl" style="top:234.7px">1400</div>
<div class="cl" style="top:184.2px">1600</div>
<div class="cl" style="top:133.8px">1800</div>
<div class="cl" style="top:83.3px">2000</div>
<div class="cl" style="top:76.9px">&gt; 2023.565</div>
<div class="cl" style="top:429.1px">&lt; 631.882</div>
<div class="foot" style="left:5px;letter-spacing:0.5px">www.cbr.washington.edu/sacramento/</div>
<div class="foot" style="left:350px;letter-spacing:0.3px">23 Nov 2025 15:49:07 PST</div>
</body></html>
